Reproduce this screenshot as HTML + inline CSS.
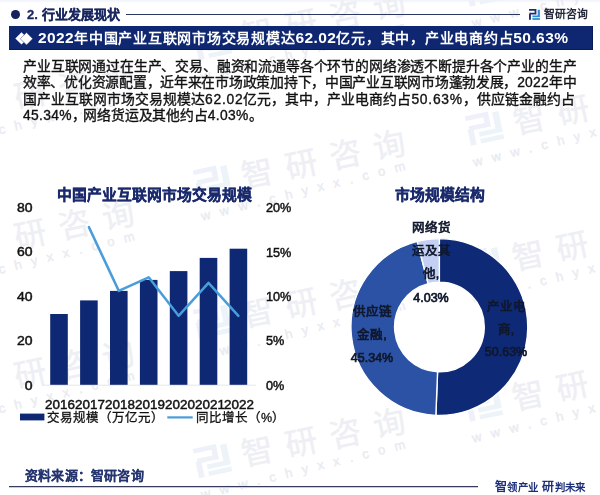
<!DOCTYPE html>
<html lang="zh-CN">
<head>
<meta charset="utf-8">
<title>2. 行业发展现状</title>
<style>
html,body{margin:0;padding:0;}
body{width:600px;height:495px;position:relative;overflow:hidden;background:linear-gradient(#f0f2fa 0,#fff 3px) #fff;font-family:"Liberation Sans",sans-serif;color:#111;}
.abs{position:absolute;white-space:nowrap;}
div.abs{will-change:transform;}
#hdr-dot{left:10.6px;top:9.8px;width:8.8px;height:8.8px;border-radius:50%;background:#15235f;}
#hdr-title{left:26.6px;top:6.2px;letter-spacing:0.12px;font-size:13px;line-height:18px;font-weight:bold;color:#19265f;-webkit-text-stroke:0.3px #19265f;}
#hdr-line{left:126px;top:13.9px;width:393.5px;height:1.2px;background:#2b3763;}
#brand{left:544.3px;top:5.6px;font-size:10.8px;line-height:17px;font-weight:bold;color:#23283a;}
#banner{left:8.7px;top:25.7px;width:584.3px;height:23.8px;background:#0f2670;box-shadow:inset -1px -1px 0 #0a1a55;}
#banner-text{left:38px;top:27.2px;font-size:14px;line-height:22px;font-weight:bold;color:#fff;letter-spacing:0.75px;}
#banner-text .n{letter-spacing:0.42px;font-size:15.5px;}
.pl .d{letter-spacing:0.75px;}
.pl{left:23.3px;font-size:13.85px;line-height:16.2px;color:#111;-webkit-text-stroke:0.35px #111;}
.ctitle{font-size:14.8px;line-height:20px;font-weight:bold;color:#1a2a6c;-webkit-text-stroke:0.35px #1a2a6c;transform:translateX(-50%);}
.ax{font-size:12.2px;line-height:16px;color:#111;-webkit-text-stroke:0.45px #111;transform-origin:0 50%;transform:scaleX(1.04);}
.yl{left:0;width:32.6px;text-align:right;transform-origin:100% 50%;transform:scaleX(1.15);}
.xl{top:397px;font-size:12.3px;transform-origin:50% 50%;transform:translateX(-50%) scaleX(1.09);}
.lg{font-size:12.5px;line-height:16px;color:#111;-webkit-text-stroke:0.3px #111;}
.lab{font-size:12.5px;line-height:16px;color:#10182e;-webkit-text-stroke:0.7px #10182e;transform:translateX(-50%);text-align:center;}
#src{left:24.5px;top:467px;letter-spacing:0.2px;font-size:13px;line-height:17px;font-weight:bold;color:#253570;-webkit-text-stroke:0.12px #253570;}
#foot-line{left:8.5px;top:486px;width:469px;height:1.4px;background:#353b5e;box-shadow:0 1px 0 #c9cde0;}
#slogan{left:494.6px;top:478.5px;letter-spacing:0.45px;font-size:10.4px;line-height:16px;font-weight:bold;color:#1d2f7a;}
#slogan b{font-size:12px;}
</style>
</head>
<body>
<!-- watermarks -->
<svg class="abs" id="wms" style="left:0;top:0" width="600" height="495" viewBox="0 0 600 495">
<defs><g id="wm">
<g transform="translate(-46.6 -27.8) scale(3.27 2.94)">
<path d="M0 0h7.2v5.2h-6.6v-1.6h4.9v-2h-5.5z" fill="#eef1f9"/>
<path d="M0 4.6h1.8v5.6h-1.8z" fill="#eef1f9"/>
<path d="M8.4 0.6h2v7.2h-7.2v-1.6h5.2z" fill="#ecf4f9"/>
<path d="M3.2 8.6h7.2v1.6h-7.2z" fill="#ecf4f9"/>
</g>
<text x="0" y="0" font-size="32" letter-spacing="13" fill="#edeff4" stroke="#edeff4" stroke-width="0.4">智研咨询</text>
<text x="-47.8" y="23.3" font-size="13" letter-spacing="9.8" fill="#e9ebf1" stroke="#e9ebf1" stroke-width="0.4" transform="rotate(-2 -47.8 23.3)">www.chyxx.com</text>
</g></defs>
<use href="#wm" transform="translate(244.1 187.9) rotate(-12)"/><use href="#wm" transform="translate(244.1 327.4) rotate(-12)"/><use href="#wm" transform="translate(244.1 466.4) rotate(-12)"/><use href="#wm" transform="translate(244.1 48.4) rotate(-12)"/><use href="#wm" transform="translate(516.1 133.9) rotate(-12)"/><use href="#wm" transform="translate(514.8 269.9) rotate(-12)"/><use href="#wm" transform="translate(515.1 409.9) rotate(-12)"/><use href="#wm" transform="translate(515.1 -5.1) rotate(-12)"/><use href="#wm" transform="translate(-26.6 258.2) rotate(-12)"/><use href="#wm" transform="translate(-26.6 397.7) rotate(-12)"/><use href="#wm" transform="translate(-26.6 118.7) rotate(-12)"/><use href="#wm" transform="translate(-26.6 -20.8) rotate(-12)"/><use href="#wm" transform="translate(515.1 548.9) rotate(-12)"/><use href="#wm" transform="translate(244.1 605.9) rotate(-12)"/>
</svg>

<div class="abs" id="hdr-dot"></div>
<div class="abs" id="hdr-title">2. 行业发展现状</div>
<div class="abs" id="hdr-line"></div>
<svg class="abs" id="logo" style="left:528.6px;top:9px" width="11" height="11" viewBox="0 0 10.4 10.4">
  <path d="M0 0h7v5.2h-6.4v-1.6h4.7v-2h-5.3z" fill="#1c2f72"/>
  <path d="M0 4.6h1.8v5.6h-1.8z" fill="#1c2f72"/>
  <path d="M8.2 0.6h2.1v7.2h-7.1v-1.6h5z" fill="#2f8fd2"/>
  <path d="M3.2 8.6h7.1v1.7h-7.1z" fill="#2f8fd2"/>
</svg>
<div class="abs" id="brand">智研咨询</div>

<div class="abs" id="banner"></div>
<svg class="abs" style="left:14.5px;top:31.8px" width="19" height="14" viewBox="0 0 19 14">
  <path d="M0.3 6.4L6.5 0.2L12.7 6.4L6.5 12.6Z" fill="#fff"/>
  <path d="M5.3 6.8L11.5 0.6L17.7 6.8L11.5 13Z" fill="#fff" stroke="#0f2670" stroke-width="0.45"/>
</svg>
<div class="abs" id="banner-text"><span class="n">2022</span>年中国产业互联网市场交易规模达<span class="n">62.02</span>亿元，其中，产业电商约占<span class="n">50.63%</span></div>

<div class="abs pl" style="top:58.1px;letter-spacing:-0.165px">产业互联网通过在生产、交易、融资和流通等各个环节的网络渗透不断提升各个产业的生产</div>
<div class="abs pl" style="top:74.3px;letter-spacing:-0.272px">效率、优化资源配置，近年来在市场政策加持下，中国产业互联网市场蓬勃发展，<span class="d" style="letter-spacing:0.2px">2022</span>年中</div>
<div class="abs pl" style="top:90.5px;letter-spacing:0px">国产业互联网市场交易规模达<span class="d">62.02</span>亿元，其中，产业电商约占<span class="d">50.63%</span>，供应链金融约占</div>
<div class="abs pl" style="top:106.7px;letter-spacing:-0.18px"><span class="d" style="letter-spacing:0.3px">45.34%</span><span style="letter-spacing:-2.4px">，</span>网络货运及其他约占<span class="d" style="letter-spacing:0.3px">4.03%</span>。</div>

<!-- left chart -->
<div class="abs ctitle" style="left:154px;top:184.7px">中国产业互联网市场交易规模</div>
<svg class="abs" style="left:0;top:170px" width="300" height="260" viewBox="0 170 300 260">
  <line x1="42" y1="385.2" x2="256" y2="385.2" stroke="#e6e6e6" stroke-width="1"/>
  <g fill="#0f2874">
    <rect x="50.2" y="314" width="17.6" height="70.8"/>
    <rect x="80.1" y="300.4" width="17.6" height="84.4"/>
    <rect x="110.0" y="290.9" width="17.6" height="93.9"/>
    <rect x="139.9" y="279.9" width="17.6" height="104.9"/>
    <rect x="169.8" y="271.1" width="17.6" height="113.7"/>
    <rect x="199.7" y="257.9" width="17.6" height="126.9"/>
    <rect x="229.6" y="248.7" width="17.6" height="136.1"/>
  </g>
  <polyline points="88.9,227.1 118.8,290.9 148.7,277.3 178.6,315.8 208.5,282.8 238.4,315.8" fill="none" stroke="#4a9ddb" stroke-width="2.5" stroke-linejoin="round" stroke-linecap="round"/>
  <rect x="20" y="413.6" width="24.4" height="6.8" fill="#0f2874"/>
  <line x1="167.3" y1="417.4" x2="192.7" y2="417.4" stroke="#4a9ddb" stroke-width="2.2"/>
</svg>
<div class="abs ax yl" style="top:200.0px">80</div>
<div class="abs ax yl" style="top:244.4px">60</div>
<div class="abs ax yl" style="top:288.9px">40</div>
<div class="abs ax yl" style="top:333.4px">20</div>
<div class="abs ax yl" style="top:377.6px">0</div>
<div class="abs ax" style="left:265.6px;top:200.2px">20%</div>
<div class="abs ax" style="left:265.6px;top:244.6px">15%</div>
<div class="abs ax" style="left:265.6px;top:289.0px">10%</div>
<div class="abs ax" style="left:265.6px;top:333.4px">5%</div>
<div class="abs ax" style="left:265.6px;top:377.6px">0%</div>
<div class="abs ax xl" style="left:60.0px">2016</div>
<div class="abs ax xl" style="left:89.9px">2017</div>
<div class="abs ax xl" style="left:119.8px">2018</div>
<div class="abs ax xl" style="left:149.7px">2019</div>
<div class="abs ax xl" style="left:179.6px">2020</div>
<div class="abs ax xl" style="left:209.5px">2021</div>
<div class="abs ax xl" style="left:239.4px">2022</div>
<div class="abs lg" style="left:47.4px;top:410px">交易规模（万亿元）</div>
<div class="abs lg" style="left:195.6px;top:410px">同比增长（%）</div>

<!-- right chart -->
<div class="abs ctitle" style="left:439.6px;top:184.7px">市场规模结构</div>
<svg class="abs" style="left:340px;top:230px" width="200" height="190" viewBox="340 230 200 190">
  <g id="donut" stroke="#fff" stroke-width="1.4" stroke-linejoin="round"><path d="M439.35 238.60A88.4 88.4 0 1 1 435.85 415.33L437.58 371.76A44.8 44.8 0 1 0 439.35 282.20Z" fill="#0e2975"/><path d="M435.85 415.33A88.4 88.4 0 0 1 417.20 241.42L428.13 283.63A44.8 44.8 0 0 0 437.58 371.76Z" fill="#2b52a4"/><path d="M417.20 241.42A88.4 88.4 0 0 1 439.35 238.60L439.35 282.20A44.8 44.8 0 0 0 428.13 283.63Z" fill="#c3cff3"/></g>
</svg>
<div class="abs lab" style="left:430.5px;top:216.6px;line-height:23.2px">网络货<br>运及其<br>他,<br>4.03%</div>
<div class="abs lab" style="left:372.3px;top:301.3px;line-height:22.8px">供应链<br>金融,<br>45.34%</div>
<div class="abs lab" style="left:505.6px;top:296.2px;line-height:22.5px">产业电<br>商,<br>50.63%</div>

<div class="abs" id="src">资料来源：智研咨询</div>
<div class="abs" id="foot-line"></div>
<div class="abs" id="slogan"><b>智</b>领产业 <b>研</b>判未来</div>
</body>
</html>
